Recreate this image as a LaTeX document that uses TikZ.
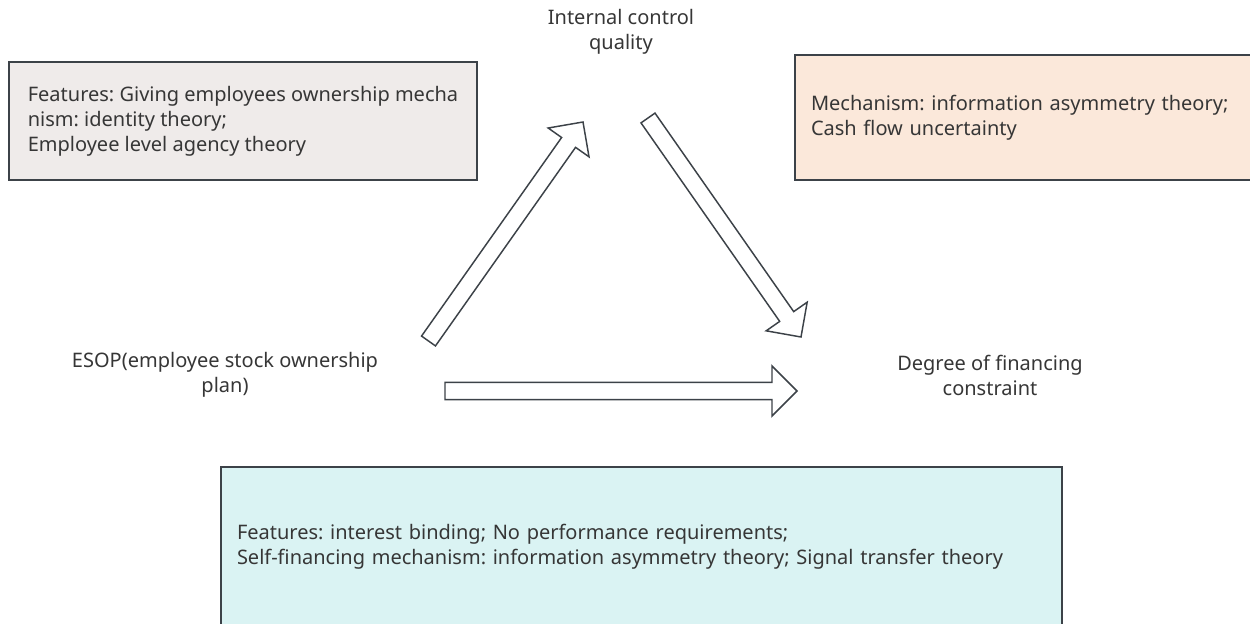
\documentclass[tikz,border=0pt]{standalone}
\usepackage{fontspec}
\setmainfont{Noto Sans}
\usetikzlibrary{calc}
\frenchspacing
\definecolor{ink}{HTML}{363636}
\definecolor{edge}{HTML}{3C4248}
\definecolor{grayfill}{HTML}{EFEBEA}
\definecolor{peachfill}{HTML}{FBE8DA}
\definecolor{cyanfill}{HTML}{DAF3F3}
\tikzset{
  lbl/.style={font=\fontsize{15}{18.75}\selectfont, text=ink, align=center, inner sep=0pt},
  infobox/.style={draw=edge, line width=1.5pt, rectangle, inner xsep=12pt, inner ysep=0pt,
    font=\fontsize{15}{18.75}\selectfont, text=ink, align=left},
  barrow/.style={draw=edge, line width=1.1pt, fill=white, line join=miter}
}
\newcommand\blockarrow[2]{%
  \coordinate (H) at ($(#2)!18.75pt!(#1)$);
  \draw[barrow] ($(#1)!6.4pt!90:(#2)$) -- ($(H)!6.4pt!-90:(#1)$) -- ($(H)!18.75pt!-90:(#1)$)
    -- (#2) -- ($(H)!18.75pt!90:(#1)$) -- ($(H)!6.4pt!90:(#1)$) -- ($(#1)!6.4pt!-90:(#2)$) -- cycle;
}
\begin{document}
\begin{tikzpicture}[x=0.75pt,y=-0.75pt]
\fill[white] (0,0) rectangle (1250,624);
\useasboundingbox (0,0) rectangle (1250,624);
\clip (0,0) rectangle (1250,624);

\node[infobox, fill=grayfill, minimum width=351pt, minimum height=88.5pt, inner xsep=0pt] (b1) at (243,121)
  {Features: Giving employees ownership mecha\\nism: identity theory;\\Employee level agency theory};
\node[infobox, fill=peachfill, minimum width=352.5pt, minimum height=93.75pt, text width=328.5pt] (b2) at (1030,117.5)
  {Mechanism: information asymmetry theory;\\Cash flow uncertainty};
\node[infobox, fill=cyanfill, minimum width=630.75pt, minimum height=120.75pt, text width=606.75pt] (b3) at (641.5,547)
  {Features: interest binding; No performance requirements;\\Self-financing mechanism: information asymmetry theory; Signal transfer theory};

\node[lbl] (ic) at (621,32) {Internal control\\quality};
\node[lbl] (esop) at (225,375) {ESOP(employee stock ownership\\plan)};
\node[lbl] (dfc) at (990,375) {Degree of financing\\constraint};

\coordinate (a1s) at (428.5,341);
\coordinate (a1e) at (583,122);
\coordinate (a2s) at (648,118);
\coordinate (a2e) at (801,337);
\coordinate (a3s) at (445,391);
\coordinate (a3e) at (797,391);
\blockarrow{a1s}{a1e}
\blockarrow{a2s}{a2e}
\blockarrow{a3s}{a3e}
\end{tikzpicture}
\end{document}
